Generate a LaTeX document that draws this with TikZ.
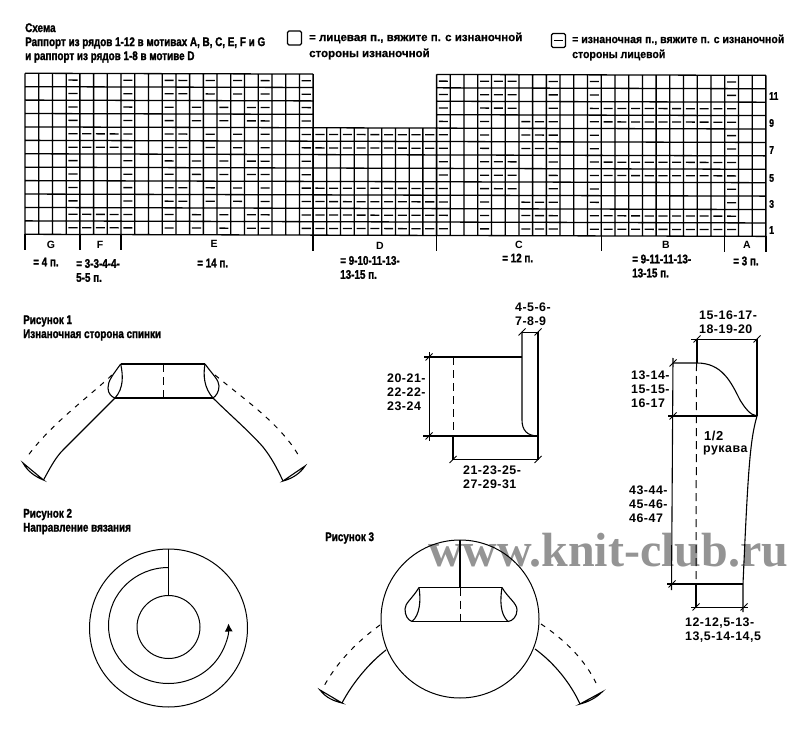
\documentclass[tikz,border=0pt]{standalone}
\usepackage{fontspec}
\setmainfont{Liberation Sans}
\newfontfamily\titlefont[FakeStretch=0.79,FakeBold=1.5]{Liberation Sans Bold}
\newfontfamily\legendfont[FakeBold=0.6]{Liberation Sans Bold}
\newfontfamily\legendnarrow[FakeStretch=0.915,FakeBold=0.6]{Liberation Sans Bold}
\newfontfamily\dimfont[LetterSpace=4]{Liberation Sans Bold}
\newfontfamily\markfont{Liberation Serif Bold}
\usetikzlibrary{positioning,arrows.meta}
\newcommand{\purlrow}[2]{\foreach \c in {#2} {\draw[purlmark] (\c-0.83,#1-0.5) -- (\c-0.17,#1-0.5);}}
\newcommand{\dimtick}[1]{\draw[tickline] (#1) +(-3.5,-3.5) -- +(3.5,3.5);}

\begin{document}
\begin{tikzpicture}[x=1pt, y=1pt]
	\tikzstyle{gridline} = [draw, line width=1.3pt]
	\tikzstyle{purlmark} = [draw, line width=1.3pt]
	\tikzstyle{outline} = [draw, line width=1.1pt]
	\tikzstyle{hidden} = [draw, line width=1pt, dash pattern=on 5pt off 6pt]
	\tikzstyle{center} = [draw, line width=1pt, dash pattern=on 8pt off 5pt]
	\tikzstyle{dimline} = [draw, line width=0.9pt]
	\tikzstyle{tickline} = [draw, line width=0.8pt]
	\tikzstyle{title} = [anchor=west, inner sep=0pt, align=left, font=\titlefont\fontsize{12.5}{14}\selectfont]
	\tikzstyle{legend} = [anchor=west, inner sep=0pt, align=left, font=\legendfont\fontsize{11.5}{16}\selectfont]
	\tikzstyle{dim} = [anchor=west, inner sep=0pt, align=left, font=\dimfont\fontsize{12.4}{14}\selectfont]
	\tikzstyle{legendbox} = [rectangle, draw, line width=1.2pt, rounded corners=1.5pt, minimum size=14pt, inner sep=0pt]
	\useasboundingbox (0,0) rectangle (800,740);

	% Watermark
	\node [anchor=base west, inner sep=0pt, text=black!42, font=\markfont\fontsize{48}{48}\selectfont] (mark) at (428,174) {www.knit-club.ru};

	% Place title and legend
	\node [title] (head) at (25,697) {Схема\\Раппорт из рядов 1-12 в мотивах A, B, C, E, F и G\\и раппорт из рядов 1-8 в мотиве D};
	\node [legendbox] (knit) at (294.5,702) {};
	\node [legendbox] (purl) at (558.5,699.5) {};
	\draw [purlmark] (purl.west) ++(3,0) -- ++(9,0);
	\node [legend] (knittext) at (309,694) {= лицевая п., вяжите п. с изнаночной\\стороны изнаночной};
	\node [legend, font=\legendnarrow\fontsize{11.5}{15}\selectfont] (purltext) at (572,692.5) {= изнаночная п., вяжите п. с изнаночной\\стороны лицевой};

	% Chart, cell by cell
	\begin{scope}[shift={(25,505.7)}, x=13.72pt, y=13.42pt, cm={1,-0.0028,0,1,(0,0)}]
		\draw [gridline, step=1] (0,0) grid (21,12);
		\draw [gridline, step=1] (21,0) grid (30,8);
		\draw [gridline, step=1] (30,0) grid (54,12);
		\foreach \c in {0,4,7,21,30,42,51,54}
			\draw [gridline] (\c,0) -- (\c,-1.15);
		\purlrow{12}{4,8,11,12,14,16,18,21,31,34,35,36,39,42,52}
		\purlrow{11}{4,8,11,12,14,16,18,21,31,34,35,36,39,42,52}
		\purlrow{10}{4,8,11,13,15,17,18,21,31,34,35,36,39,42,43,...,52}
		\purlrow{9}{4,8,11,13,15,17,18,21,31,34,37,38,39,42,43,...,52}
		\purlrow{8}{4,5,...,8,11,12,14,16,18,21,22,...,31,34,37,38,39,42,52}
		\purlrow{7}{4,5,...,8,11,12,14,16,18,21,22,...,31,34,37,38,39,42,52}
		\purlrow{6}{4,8,11,13,15,17,18,21,31,34,35,36,39,42,43,...,52}
		\purlrow{5}{4,8,11,13,15,17,18,21,31,34,35,36,39,42,43,...,52}
		\purlrow{4}{4,8,11,12,14,16,18,21,22,...,31,34,35,36,39,42,52}
		\purlrow{3}{4,8,11,12,14,16,18,21,22,...,31,34,37,38,39,42,52}
		\purlrow{2}{4,5,...,8,11,13,15,17,18,21,22,...,31,34,37,38,39,42,43,...,52}
		\purlrow{1}{4,5,...,8,11,13,15,17,18,21,22,...,31,34,37,38,39,42,43,...,52}
	\end{scope}

	% Row numbers
	\foreach \n/\y in {11/644,9/617,7/590,5/562,3/536,1/510}
		\node [title, font=\titlefont\fontsize{11}{11}\selectfont] (row\n) at (769,\y) {\n};

	% Motif letters and stitch counts
	\foreach \n/\x/\y in {G/51/495,F/100/495,E/214/496,D/380/494,C/519/495,B/666/495,A/747/495}
		\node [font=\bfseries\fontsize{10.5}{12}\selectfont, inner sep=0pt] (\n) at (\x,\y) {\n};
	\node [title] (countG) at (33,478) {= 4 п.};
	\node [title] (countF) at (76,469.5) {= 3-3-4-4-\\5-5 п.};
	\node [title] (countE) at (197,477) {= 14 п.};
	\node [title] (countD) at (340,472.5) {= 9-10-11-13-\\13-15 п.};
	\node [title] (countC) at (502,482) {= 12 п.};
	\node [title] (countB) at (632,474) {= 9-11-11-13-\\13-15 п.};
	\node [title] (countA) at (733,479) {= 3 п.};

	% Figure 1
	\node [title] (figA) at (23,412) {Рисунок 1\\Изнаночная сторона спинки};
	\coordinate (a1) at (120.7,376);
	\coordinate (a2) at (205,376);
	\coordinate (a3) at (213,342);
	\coordinate (a4) at (115,342);
	\draw [outline] (a1) -- (a2) (a4) -- (a3);
	\draw [center] (163,376) -- (163,342);
	\draw [outline] (a1) .. controls (123,365) and (124,352) .. (a4);
	\draw [outline] (a1) .. controls (112,364) and (108,359) .. (108,352) .. controls (108,346) and (112,343) .. (a4);
	\draw [outline] (a2) .. controls (203,365) and (204,352) .. (a3);
	\draw [outline] (a2) .. controls (213,365) and (219,360) .. (219,354) .. controls (219,348) and (216,344) .. (a3);
	\draw [outline] (a4) .. controls (95,322) and (75,302) .. (63,290) .. controls (55,282) and (49,270) .. (43.5,260);
	\draw [hidden] (112,365) .. controls (85,340) and (50,315) .. (27,283);
	\draw [outline] (23,277) .. controls (28,268) and (36,263) .. (43.5,260) -- cycle;
	\draw [outline] (a3) .. controls (228,327) and (250,308) .. (263,293) .. controls (271,283) and (277,272) .. (283,259);
	\draw [hidden] (215,365) .. controls (245,340) and (282,315) .. (300,282);
	\draw [outline] (283,259) .. controls (291,261) and (300,266) .. (305,274) -- cycle;

	% Figure 2
	\node [title] (figB) at (23,218.5) {Рисунок 2\\Направление вязания};
	\node [circle, draw, line width=1pt, minimum size=158pt, inner sep=0pt] (outer) at (168.5,112) {};
	\node [circle, draw, line width=1pt, minimum size=63pt, inner sep=0pt] (inner) at (168.5,113) {};
	\draw [outline] (outer.north) -- (inner.north);
	\draw [line width=1pt, -{Latex[length=8pt,width=8pt]}] (168.5,172.5) arc (90:362:60pt and 58pt);

	% Figure 3
	\node [title] (figC) at (325,202) {Рисунок 3};
	\node [circle, draw, line width=1pt, minimum size=158pt, inner sep=0pt] (ball) at (460,121) {};
	\coordinate (c1) at (419,152.5);
	\coordinate (c2) at (502,152.5);
	\coordinate (c3) at (508,118.5);
	\coordinate (c4) at (412,118.5);
	\draw [outline] (c1) -- (c2) (c4) -- (c3);
	\draw [outline] (ball.north) -- (460,152.5);
	\draw [center] (460,152.5) -- (460,118.5);
	\draw [outline] (c1) .. controls (421,140) and (420,125) .. (c4);
	\draw [outline] (c1) .. controls (412,141) and (405,137) .. (405,131) .. controls (405,124) and (408,120) .. (c4);
	\draw [outline] (c2) .. controls (500,140) and (500,126) .. (c3);
	\draw [outline] (c2) .. controls (508,142) and (517,137) .. (517,130) .. controls (517,124) and (513,119) .. (c3);
	\draw [outline] (386,90) .. controls (368,76) and (352,56) .. (342,37);
	\draw [hidden] (380,115) .. controls (355,97) and (335,75) .. (323,52);
	\draw [outline] (320,50) .. controls (326,42) and (334,39) .. (342,37) -- cycle;
	\draw [outline] (535,91) .. controls (553,78) and (570,58) .. (580,36);
	\draw [hidden] (541,116) .. controls (565,100) and (585,80) .. (596,57);
	\draw [outline] (580,36) .. controls (588,38) and (596,42) .. (602,48) -- cycle;

	% Back panel with measures
	\coordinate (b1) at (429,383);
	\coordinate (b2) at (429,304);
	\coordinate (b3) at (453,280.5);
	\coordinate (b4) at (538,280.5);
	\coordinate (b5) at (522,408);
	\coordinate (b6) at (538,408);
	\draw [outline] (424,383) -- (522,383);
	\draw [outline] (423,304) -- (538,304);
	\draw [outline] (b5) -- (522,320) .. controls (522,310) and (527,304) .. (538,304);
	\draw [outline] (b6) -- (b4);
	\draw [center] (453,383) -- (453,304);
	\draw [outline] (453,304) -- (b3);
	\draw [dimline] (429,388) -- (429,299);
	\draw [dimline] (b3) -- (b4);
	\draw [dimline] (b5) -- (b6);
	\foreach \p in {b1,b2,b3,b4,b5,b6} {\dimtick{\p}}
	\node [dim] (backW) at (515,426) {4-5-6-\\7-8-9};
	\node [dim] (backH) at (387,348) {20-21-\\22-22-\\23-24};
	\node [dim] (backL) at (463,263) {21-23-25-\\27-29-31};

	% Sleeve with measures
	\coordinate (s1) at (697,401);
	\coordinate (s2) at (757,401);
	\coordinate (s3) at (673,377);
	\coordinate (s4) at (673,324);
	\coordinate (s5) at (672,156);
	\coordinate (s6) at (696,133);
	\coordinate (s7) at (744,133);
	\draw [outline] (s1) -- (697,377) (s2) -- (757,324);
	\draw [outline] (s3) -- (697,377) .. controls (722,377) and (731,358) .. (740,340) .. controls (745,332) and (750,325) .. (757,324);
	\draw [outline] (668,324) -- (757,324);
	\draw [outline] (673,382) -- (671.5,150);
	\draw [outline] (757,324) .. controls (750,300) and (748,270) .. (743,156) -- (743,128);
	\draw [outline] (667,156) -- (743,156);
	\draw [center] (696.5,377) -- (696,156);
	\draw [outline] (696,156) -- (s6);
	\draw [dimline] (691,401) -- (s2);
	\draw [dimline] (691,133) -- (748,133);
	\foreach \p in {s1,s2,s3,s4,s5,s6,s7} {\dimtick{\p}}
	\node [dim] (slvW) at (699,417.5) {15-16-17-\\18-19-20};
	\node [dim] (slvH) at (631,351) {13-14-\\15-15-\\16-17};
	\node [dim] (slvL) at (629,236) {43-44-\\45-46-\\46-47};
	\node [dim] (slvC) at (685,109.5) {12-12,5-13-\\13,5-14-14,5};
	\node [dim, font=\dimfont\fontsize{13}{13}\selectfont] (half) at (704,304) {1/2};
	\node [dim] (halfB) at (703,290) {рукава};

\end{tikzpicture}
\end{document}
